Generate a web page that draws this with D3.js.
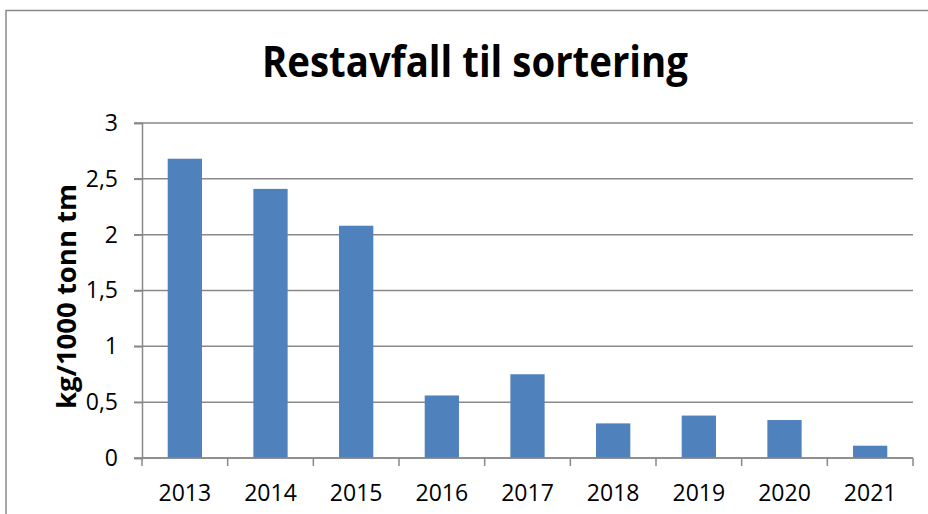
<!DOCTYPE html>
<html>
<head>
<meta charset="utf-8">
<script src="https://cdn.jsdelivr.net/npm/d3@7"></script>
<style>
  body { margin: 0; background: #fff; }
  svg { display: block; }
</style>
</head>
<body>
<svg width="928" height="514"></svg>
<script>
var years = ["2013", "2014", "2015", "2016", "2017", "2018", "2019", "2020", "2021"];
var values = [2.68, 2.41, 2.08, 0.56, 0.75, 0.31, 0.38, 0.34, 0.11];
var yTicks = [0, 0.5, 1, 1.5, 2, 2.5, 3];
var title = "Restavfall til sortering";
var yTitle = "kg/1000 tonn tm";

var svg = d3.select("svg"),
    width = +svg.attr("width"),
    height = +svg.attr("height");

var margin = {left: 142, right: 15, top: 123, bottom: 56};

var locale = d3.formatLocale({decimal: ",", thousands: " ", grouping: [3], currency: ["", " kr"]});
var fmt = locale.format("~g");

// outer chart border
svg.append("rect")
    .attr("x", 6)
    .attr("y", 10.5)
    .attr("width", width + 10)
    .attr("height", height + 10)
    .attr("fill", "none")
    .attr("stroke", "#8a8a8a")
    .attr("stroke-width", 1.5);

var x = d3.scaleBand()
    .domain(years)
    .range([margin.left, width - margin.right])
    .paddingInner(0.6)
    .paddingOuter(0.3);

var y = d3.scaleLinear()
    .domain([0, 3])
    .range([height - margin.bottom, margin.top]);

// gridlines
svg.append("g")
    .selectAll("line")
    .data(yTicks)
    .enter().append("line")
    .attr("x1", margin.left - 8)
    .attr("x2", width - margin.right)
    .attr("y1", function(d) { return y(d); })
    .attr("y2", function(d) { return y(d); })
    .attr("stroke", "#898989")
    .attr("stroke-width", 1.5);

// bars
svg.append("g")
    .selectAll("rect")
    .data(values)
    .enter().append("rect")
    .attr("x", function(d, i) { return x(years[i]); })
    .attr("y", function(d) { return y(d); })
    .attr("width", x.bandwidth())
    .attr("height", function(d) { return y(0) - y(d); })
    .attr("fill", "#4f81bd");

// y axis
var yAxis = svg.append("g")
    .attr("transform", "translate(" + margin.left + ",0)")
    .call(d3.axisLeft(y).tickValues(yTicks).tickSize(8).tickPadding(16).tickFormat(fmt));
yAxis.selectAll("path, line").attr("stroke", "#898989").attr("stroke-width", 1.5);
yAxis.selectAll("text")
    .attr("font-family", "'Open Sans', sans-serif")
    .attr("font-size", 23)
    .attr("fill", "#000");

// x axis with ticks at category boundaries
var step = x.step();
var bounds = d3.range(years.length + 1).map(function(i) { return margin.left + i * step; });
svg.append("line")
    .attr("x1", margin.left)
    .attr("x2", width - margin.right)
    .attr("y1", y(0))
    .attr("y2", y(0))
    .attr("stroke", "#898989")
    .attr("stroke-width", 1.5);
svg.append("g")
    .selectAll("line")
    .data(bounds)
    .enter().append("line")
    .attr("x1", function(d) { return d; })
    .attr("x2", function(d) { return d; })
    .attr("y1", y(0))
    .attr("y2", y(0) + 8)
    .attr("stroke", "#898989")
    .attr("stroke-width", 1.5);
svg.append("g")
    .selectAll("text")
    .data(years)
    .enter().append("text")
    .attr("x", function(d) { return x(d) + x.bandwidth() / 2; })
    .attr("y", 501)
    .attr("text-anchor", "middle")
    .attr("font-family", "'Open Sans', sans-serif")
    .attr("font-size", 23)
    .attr("fill", "#000")
    .text(function(d) { return d; });

// y axis title
svg.append("text")
    .attr("transform", "translate(76," + ((y(0) + y(3)) / 2 + 6) + ") rotate(-90)")
    .attr("text-anchor", "middle")
    .attr("font-family", "'Open Sans', sans-serif")
    .attr("font-weight", "bold")
    .attr("font-size", 27)
    .attr("textLength", 225)
    .attr("lengthAdjust", "spacingAndGlyphs")
    .attr("fill", "#000")
    .text(yTitle);

// chart title
svg.append("text")
    .attr("x", 475)
    .attr("y", 77)
    .attr("text-anchor", "middle")
    .attr("font-family", "'Open Sans', sans-serif")
    .attr("font-weight", "bold")
    .attr("font-size", 43)
    .attr("textLength", 426)
    .attr("lengthAdjust", "spacingAndGlyphs")
    .attr("fill", "#000")
    .text(title);
</script>
</body>
</html>
